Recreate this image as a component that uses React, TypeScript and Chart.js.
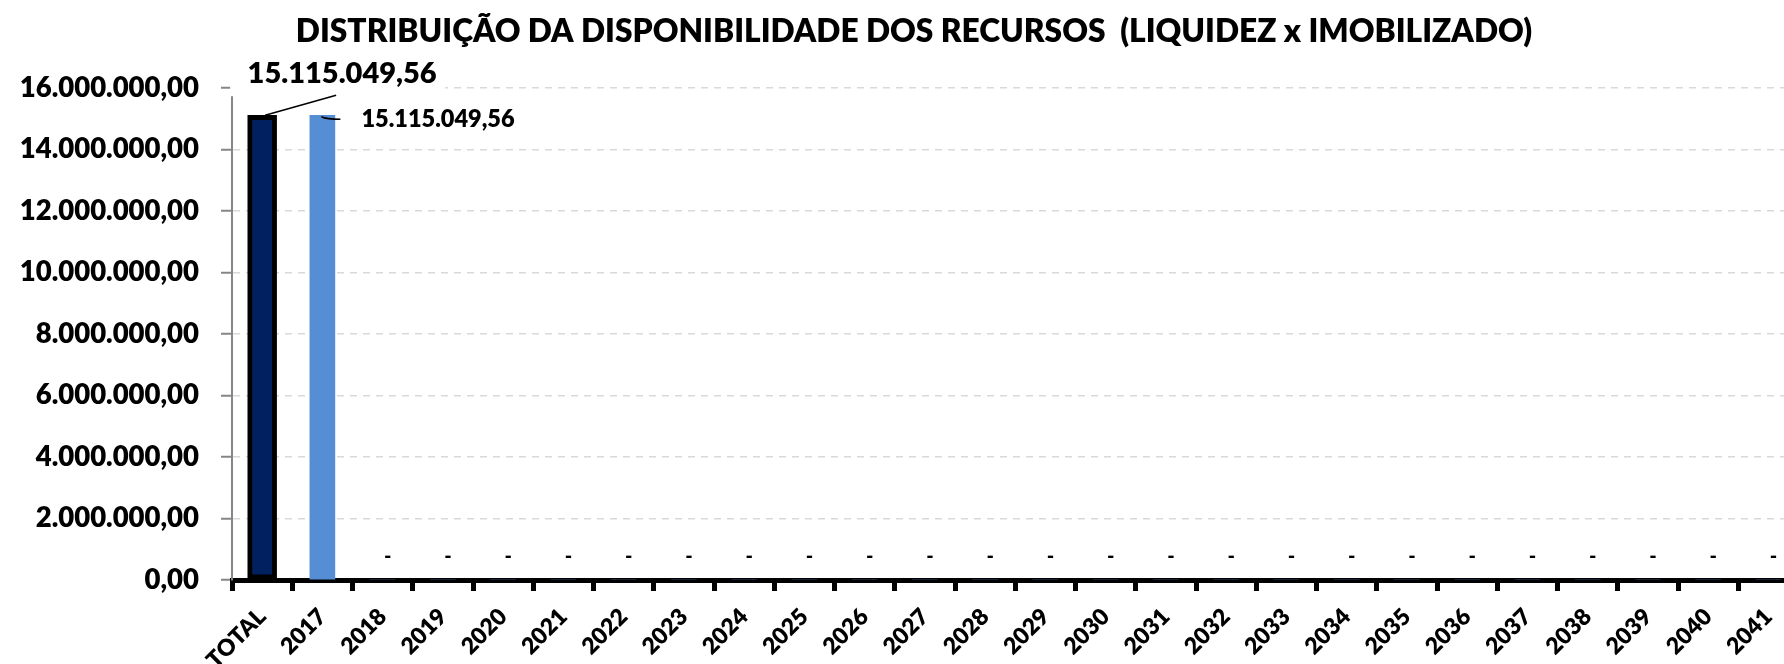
import React, { useEffect, useRef } from "react";
import { Chart, registerables } from "chart.js";

Chart.register(...registerables);

const TITLE = "DISTRIBUIÇÃO DA DISPONIBILIDADE DOS RECURSOS  (LIQUIDEZ x IMOBILIZADO)";

const categories = [
  "TOTAL", "2017", "2018", "2019", "2020", "2021", "2022", "2023", "2024",
  "2025", "2026", "2027", "2028", "2029", "2030", "2031", "2032", "2033",
  "2034", "2035", "2036", "2037", "2038", "2039", "2040", "2041",
];

const totalSeries: (number | null)[] = [
  15115049.56, null, null, null, null, null, null, null, null,
  null, null, null, null, null, null, null, null, null,
  null, null, null, null, null, null, null, null,
];

const yearSeries: (number | null)[] = [
  null, 15115049.56, 0, 0, 0, 0, 0, 0, 0,
  0, 0, 0, 0, 0, 0, 0, 0, 0,
  0, 0, 0, 0, 0, 0, 0, 0,
];

const yTickValues = [0, 2000000, 4000000, 6000000, 8000000, 10000000, 12000000, 14000000, 16000000];

const FONT = "Lato, 'DejaVu Sans', sans-serif";
const W = 800;

function fmtBR(v: number): string {
  const neg = v < 0;
  const abs = Math.abs(v);
  const fixed = abs.toFixed(2);
  const [intPart, dec] = fixed.split(".");
  const grouped = intPart.replace(/\B(?=(\d{3})+(?!\d))/g, ".");
  return (neg ? "-" : "") + grouped + "," + dec;
}

const labelPlugin = {
  id: "customLabels",
  afterDatasetsDraw(chart: any) {
    const ctx = chart.ctx as CanvasRenderingContext2D;
    ctx.save();
    const metaA = chart.getDatasetMeta(0);
    metaA.data.forEach((el: any, i: number) => {
      const v = totalSeries[i];
      if (v === null || v === undefined) return;
      const x = el.x;
      const y = el.y;
      ctx.fillStyle = "#ffffff";
      ctx.fillRect(x - 32, y - 63, 215, 44);
      ctx.strokeStyle = "#000000";
      ctx.lineWidth = 1.5;
      ctx.beginPath();
      ctx.moveTo(x + 3, y);
      ctx.lineTo(x + 74, y - 20);
      ctx.stroke();
      ctx.fillStyle = "#000000";
      ctx.font = `${W} 29px ${FONT}`;
      ctx.textAlign = "center";
      ctx.textBaseline = "middle";
      ctx.fillText(fmtBR(v), x + 80, y - 42);
    });
    const metaB = chart.getDatasetMeta(1);
    metaB.data.forEach((el: any, i: number) => {
      const v = yearSeries[i];
      if (v === null || v === undefined) return;
      const x = el.x;
      const y = el.y;
      ctx.fillStyle = "#000000";
      if (v === 0) {
        ctx.font = `900 20px ${FONT}`;
        ctx.textAlign = "center";
        ctx.textBaseline = "middle";
        ctx.fillText("-", x + 5, y - 23);
      } else {
        ctx.strokeStyle = "#000000";
        ctx.lineWidth = 1.5;
        ctx.beginPath();
        ctx.moveTo(x - 1, y + 1.5);
        ctx.quadraticCurveTo(x + 4, y + 4, x + 18, y + 4);
        ctx.stroke();
        ctx.font = `${W} 23.5px ${FONT}`;
        ctx.textAlign = "left";
        ctx.textBaseline = "middle";
        ctx.fillText(fmtBR(v), x + 39, y + 4);
      }
    });
    ctx.restore();
  },
  afterDraw(chart: any) {
    const ctx = chart.ctx as CanvasRenderingContext2D;
    ctx.save();
    ctx.fillStyle = "#000000";
    ctx.font = `${W} 31.7px ${FONT}`;
    ctx.textAlign = "center";
    ctx.textBaseline = "middle";
    ctx.fillText(TITLE, 914, 32);
    ctx.restore();
  },
};

export default function App() {
  const canvasRef = useRef<HTMLCanvasElement | null>(null);

  useEffect(() => {
    if (!canvasRef.current) return;
    const chart = new Chart(canvasRef.current, {
      type: "bar",
      data: {
        labels: categories,
        datasets: [
          {
            label: "TOTAL",
            data: totalSeries,
            backgroundColor: "#002060",
            borderColor: "#000000",
            borderWidth: 5,
            borderSkipped: false,
            barThickness: 29,
            grouped: false,
          } as any,
          {
            label: "ANOS",
            data: yearSeries,
            backgroundColor: "#558ED5",
            borderWidth: 0,
            barThickness: 25,
            grouped: false,
          } as any,
        ],
      },
      options: {
        responsive: false,
        animation: false,
        devicePixelRatio: 1,
        layout: { padding: { top: 88, left: 0, right: 1.5, bottom: 0 } },
        plugins: {
          legend: { display: false },
          title: { display: false },
          tooltip: { enabled: false },
        },
        scales: {
          x: {
            offset: true,
            grid: {
              display: true,
              drawOnChartArea: false,
              drawTicks: true,
              tickLength: 11,
              tickWidth: 5,
              tickColor: "#000000",
              offset: true,
            },
            border: { display: true, color: "#000000", width: 5 },
            ticks: {
              autoSkip: false,
              maxRotation: 45,
              minRotation: 45,
              padding: 12,
              color: "#000000",
              font: { family: FONT, size: 23, weight: W },
            },
            afterFit: (scale: any) => {
              scale.height = 84;
            },
          },
          y: {
            min: 0,
            max: 16000000,
            afterBuildTicks: (scale: any) => {
              scale.ticks = yTickValues.map((v) => ({ value: v }));
            },
            grid: {
              color: "#d9d9d9",
              lineWidth: 1.5,
              drawTicks: true,
              tickLength: 11,
              tickWidth: 2,
              tickColor: "#868686",
            },
            border: { display: true, color: "#868686", width: 2, dash: [7, 6] },
            ticks: {
              padding: 22,
              color: "#000000",
              font: { family: FONT, size: 27.5, weight: W },
              callback: (v: any) => fmtBR(Number(v)),
            },
            afterFit: (scale: any) => {
              scale.width = 232;
            },
          },
        },
      },
      plugins: [labelPlugin],
    });
    return () => chart.destroy();
  }, []);

  return (
    <div
      style={{
        position: "absolute",
        left: 0,
        top: 0,
        width: 1784,
        height: 664,
        overflow: "hidden",
        background: "#ffffff",
      }}
    >
      <canvas ref={canvasRef} width={1800} height={664} style={{ display: "block", width: 1800, height: 664 }} />
    </div>
  );
}
